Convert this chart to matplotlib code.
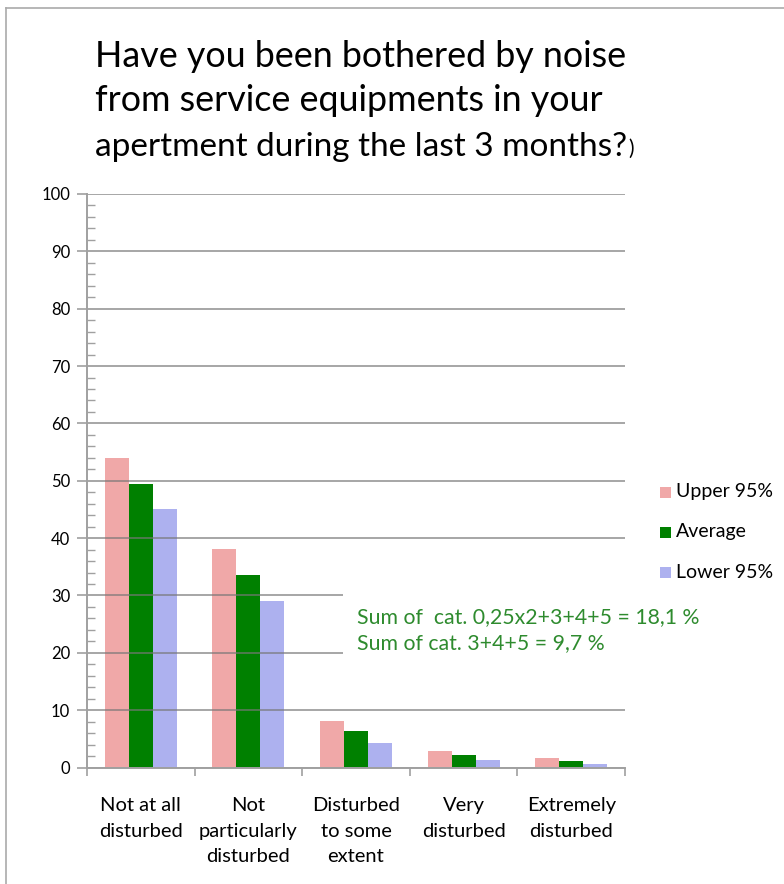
import matplotlib
matplotlib.use("Agg")
import matplotlib.pyplot as plt
import numpy as np
from matplotlib.ticker import MultipleLocator
from matplotlib.lines import Line2D
from matplotlib.patches import Rectangle

plt.rcParams['font.family'] = ['Lato', 'DejaVu Sans']

categories = ["Not at all\ndisturbed", "Not\nparticularly\ndisturbed",
              "Disturbed\nto some\nextent", "Very\ndisturbed", "Extremely\ndisturbed"]
upper95 = [54.0, 38.1, 8.1, 2.9, 1.6]
average = [49.5, 33.6, 6.4, 2.1, 1.2]
lower95 = [45.1, 29.0, 4.3, 1.3, 0.6]
series_names = ["Upper 95%", "Average", "Lower 95%"]
series_colors = ["#F0A8A8", "#008000", "#ADB1EF"]
title_lines = ["Have you been bothered by noise",
               "from service equipments in your",
               "apertment during the last 3 months?"]
note_lines = ["Sum of  cat. 0,25x2+3+4+5 = 18,1 %", "Sum of cat. 3+4+5 = 9,7 %"]

W, H = 784, 884
fig = plt.figure(figsize=(W / 100, H / 100), dpi=100)


def fx(px):
    return px / W


def fy(px):
    return 1 - px / H


# outer frame (top and left edges visible)
fig.add_artist(Line2D([fx(6), fx(6)], [0, fy(8)], transform=fig.transFigure,
                      color="#AAAAAA", lw=1.2))
fig.add_artist(Line2D([fx(6), 1], [fy(8), fy(8)], transform=fig.transFigure,
                      color="#AAAAAA", lw=1.2))

ax = fig.add_axes([fx(87), fy(767.5), fx(625 - 87), (767.5 - 194) / H])

x = np.arange(len(categories))
bw = 0.223
for i, (vals, col) in enumerate(zip([upper95, average, lower95], series_colors)):
    ax.bar(x + (i - 1) * bw, vals, width=bw, color=col, zorder=2, label=series_names[i])

ax.set_xlim(-0.5, len(categories) - 0.5)
ax.set_ylim(0, 100)
ax.yaxis.set_major_locator(MultipleLocator(10))
ax.yaxis.set_minor_locator(MultipleLocator(2))
ax.grid(axis="y", which="major", color="#777777", alpha=0.65, lw=1.4, zorder=3)
ax.set_axisbelow(False)

for s in ["top", "right"]:
    ax.spines[s].set_visible(False)
for s in ["left", "bottom"]:
    ax.spines[s].set_color("#A0A0A0")
    ax.spines[s].set_linewidth(1.4)
    ax.spines[s].set_zorder(4)

ax.tick_params(axis="y", which="major", direction="out", length=7, width=1.2,
               color="#A0A0A0", labelsize=12, pad=5)
ax.tick_params(axis="y", which="minor", direction="in", length=6, width=1.0,
               color="#A0A0A0")
# category boundaries as x ticks, labels centred under each group
ax.set_xticks(np.arange(len(categories) + 1) - 0.5)
ax.set_xticklabels([])
ax.tick_params(axis="x", which="major", direction="out", length=6, width=1.2,
               color="#A0A0A0")
ax.set_xticks(x, minor=True)
ax.set_xticklabels(categories, minor=True, fontsize=14.5, linespacing=1.6,
                   va="top")
ax.tick_params(axis="x", which="minor", length=0, pad=21.5)

# title, one line at a time
title_baselines = [67, 111, 156]
title_sizes = [25.8, 25.8, 24.0]
t_last = None
for line, yb, fs in zip(title_lines, title_baselines, title_sizes):
    t_last = fig.text(fx(95), fy(yb), line, fontsize=fs, va="baseline",
                      ha="left")
fig.canvas.draw()
ann = plt.annotate(")", xy=(1, 0), xycoords=t_last, xytext=(1, 2),
                   textcoords="offset points", fontsize=15, va="bottom",
                   ha="left", annotation_clip=False)

# white panel behind the summary note
fig.add_artist(Rectangle((fx(343), fy(666)), fx(712 - 343), (666 - 588) / H,
                         transform=fig.transFigure, facecolor="white",
                         edgecolor="none", zorder=5))
fig.text(fx(357), fy(617), note_lines[0], fontsize=15.3, color="#2E8B2E",
         va="center", zorder=6)
fig.text(fx(357), fy(643), note_lines[1], fontsize=15.3, color="#2E8B2E",
         va="center", zorder=6)

# legend
for i, (name, col) in enumerate(zip(series_names, series_colors)):
    yc = fy(492 + 40 * i)
    fig.add_artist(Rectangle((fx(660), yc - 5.5 / H), 11 / W, 11 / H,
                             transform=fig.transFigure, facecolor=col,
                             edgecolor="none", zorder=7))
    fig.text(fx(676), yc, name, fontsize=14, va="center", ha="left", zorder=7)

fig.savefig("out.png", dpi=100)
